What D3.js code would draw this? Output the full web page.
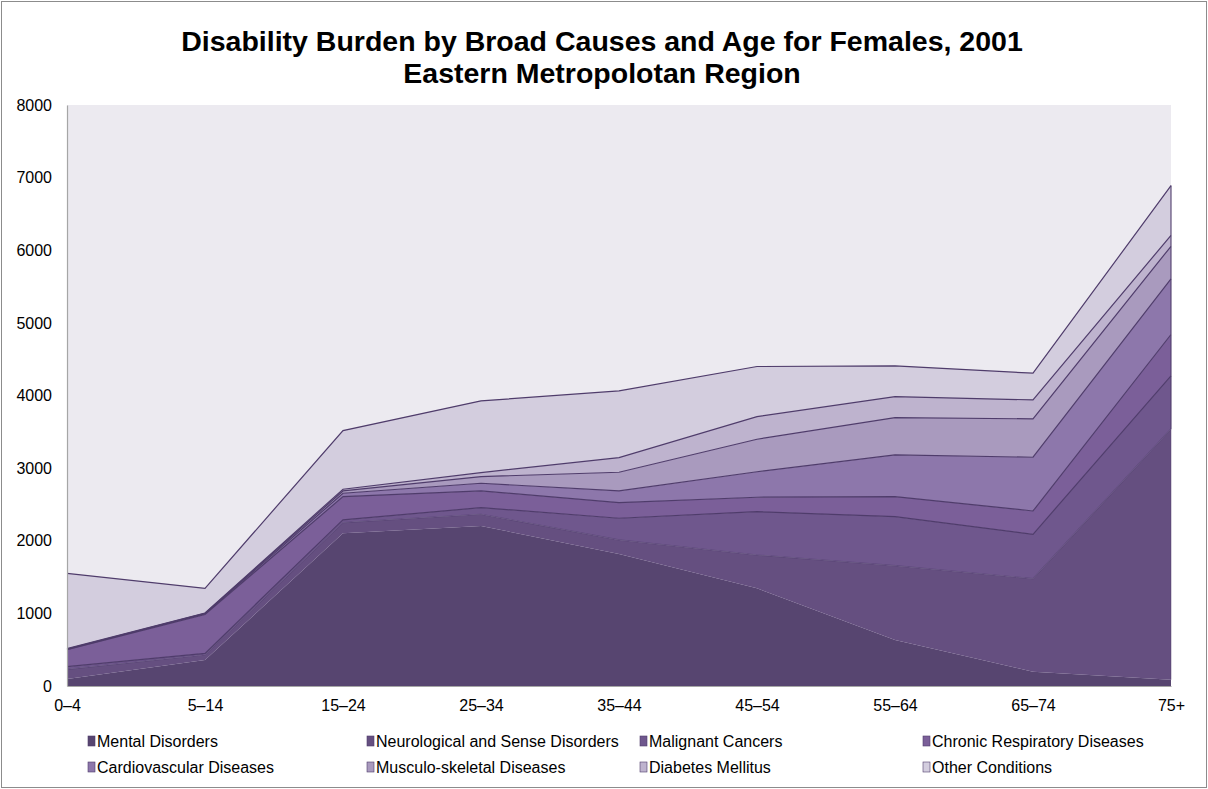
<!DOCTYPE html>
<html>
<head>
<meta charset="utf-8">
<script src="https://cdn.jsdelivr.net/npm/d3@7"></script>
<style>
  html, body { margin: 0; padding: 0; background: #ffffff; }
  svg { display: block; }
  text { font-family: "Liberation Sans", Arial, sans-serif; fill: #000; }
</style>
</head>
<body>
<svg id="chart" width="1208" height="789"></svg>
<script>
// Age groups along the horizontal axis
const ageGroups = ["0–4", "5–14", "15–24", "25–34", "35–44", "45–54", "55–64", "65–74", "75+"];

// Disability burden per cause, one value per age group (stacked bottom to top)
const mentalDisorders      = [96, 358, 2103, 2204, 1818, 1345, 634, 197, 85];
const neurologicalSense    = [134, 72, 147, 161, 193, 459, 1023, 1281, 3455];
const malignantCancers     = [36, 20, 37, 91, 299, 597, 675, 611, 730];
const chronicRespiratory   = [234, 535, 321, 230, 215, 198, 276, 321, 570];
const cardiovascular       = [5, 10, 46, 106, 161, 351, 574, 740, 765];
const musculoSkeletal      = [5, 5, 32, 91, 257, 448, 514, 528, 450];
const diabetesMellitus     = [5, 5, 23, 55, 202, 312, 289, 261, 150];
const otherConditions      = [1037, 340, 808, 988, 918, 689, 423, 368, 685];

const seriesNames = [
  "Mental Disorders", "Neurological and Sense Disorders", "Malignant Cancers",
  "Chronic Respiratory Diseases", "Cardiovascular Diseases", "Musculo-skeletal Diseases",
  "Diabetes Mellitus", "Other Conditions"
];
const seriesValues = [
  mentalDisorders, neurologicalSense, malignantCancers, chronicRespiratory,
  cardiovascular, musculoSkeletal, diabetesMellitus, otherConditions
];
const seriesColors = ["#574570", "#654f80", "#6f578d", "#7b5f99", "#8d77ab", "#a99abe", "#beb3ce", "#d3cdde"];

const yTicks = [0, 1000, 2000, 3000, 4000, 5000, 6000, 7000, 8000];

// Build one row per age group for d3.stack
const rows = ageGroups.map((age, i) => {
  const r = { age };
  seriesNames.forEach((name, k) => { r[name] = seriesValues[k][i]; });
  return r;
});

const svg = d3.select("#chart");

// Outer chart frame
svg.append("rect")
  .attr("x", 1.5).attr("y", 1.5).attr("width", 1205).attr("height", 786)
  .attr("fill", "#fff").attr("stroke", "#8c8c8c").attr("stroke-width", 1);

const plot = { left: 67, right: 1171, top: 105, bottom: 686 };

const x = d3.scalePoint().domain(ageGroups).range([plot.left, plot.right]);
const y = d3.scaleLinear().domain([0, 8000]).range([plot.bottom, plot.top]);

// Plot background
svg.append("rect")
  .attr("x", plot.left).attr("y", plot.top)
  .attr("width", plot.right - plot.left).attr("height", plot.bottom - plot.top)
  .attr("fill", "#eceaf0");

const stacked = d3.stack().keys(seriesNames)(rows);

const area = d3.area()
  .x(d => x(d.data.age))
  .y0(d => y(d[0]))
  .y1(d => y(d[1]));

const topLine = d3.line()
  .x(d => x(d.data.age))
  .y(d => y(d[1]));

const layers = svg.append("g");
layers.selectAll("path.area")
  .data(stacked)
  .join("path")
  .attr("class", "area")
  .attr("d", area)
  .attr("fill", (d, i) => seriesColors[i]);

// Outline along the top of each band above the first
const outlines = svg.append("g").attr("fill", "none").attr("stroke", "#4f3c6b").attr("stroke-width", 1.2);
stacked.forEach((s, i) => {
  if (i === 0) return;
  outlines.append("path")
    .attr("d", topLine(s))
    .attr("stroke-opacity", i === 1 ? 0.55 : 1);
  const last = s[s.length - 1];
  outlines.append("line")
    .attr("x1", x(last.data.age)).attr("x2", x(last.data.age))
    .attr("y1", y(last[1])).attr("y2", y(last[0]))
    .attr("stroke-opacity", i === 1 ? 0.4 : 0.9);
});

// Axes
const yAxis = d3.axisLeft(y).tickValues(yTicks).tickSize(0).tickPadding(15).tickFormat(d3.format("d"));
const gy = svg.append("g").attr("transform", `translate(${plot.left},0)`).call(yAxis);
gy.select(".domain").attr("stroke", "#a6a6a6").attr("stroke-width", 1.2);
gy.selectAll("text").attr("font-size", 16).attr("font-family", "Liberation Sans, Arial, sans-serif").attr("fill", "#000");

const xAxis = d3.axisBottom(x).tickSize(0).tickPadding(14);
const gx = svg.append("g").attr("transform", `translate(0,${plot.bottom})`).call(xAxis);
gx.select(".domain").attr("stroke", "#a6a6a6").attr("stroke-width", 1.2);
gx.selectAll("text").attr("font-size", 16).attr("font-family", "Liberation Sans, Arial, sans-serif").attr("fill", "#000");

// Title
const title = svg.append("text")
  .attr("text-anchor", "middle")
  .attr("font-weight", "bold")
  .attr("font-size", 28.5);
title.append("tspan").attr("x", 602).attr("y", 51).text("Disability Burden by Broad Causes and Age for Females, 2001");
title.append("tspan").attr("x", 602).attr("y", 83).text("Eastern Metropolotan Region");

// Legend: two rows of four entries
const legendCols = [88, 367, 640, 923];
const legendRows = [741, 767];
const legend = svg.append("g");
seriesNames.forEach((name, i) => {
  const cx = legendCols[i % 4];
  const cy = legendRows[Math.floor(i / 4)];
  legend.append("rect")
    .attr("x", cx).attr("y", cy - 5).attr("width", 7).attr("height", 10)
    .attr("fill", seriesColors[i]).attr("stroke", "#4f3c6b").attr("stroke-width", 0.6);
  legend.append("text")
    .attr("x", cx + 9).attr("y", cy + 5.5)
    .attr("font-size", 16)
    .text(name);
});
</script>
</body>
</html>
